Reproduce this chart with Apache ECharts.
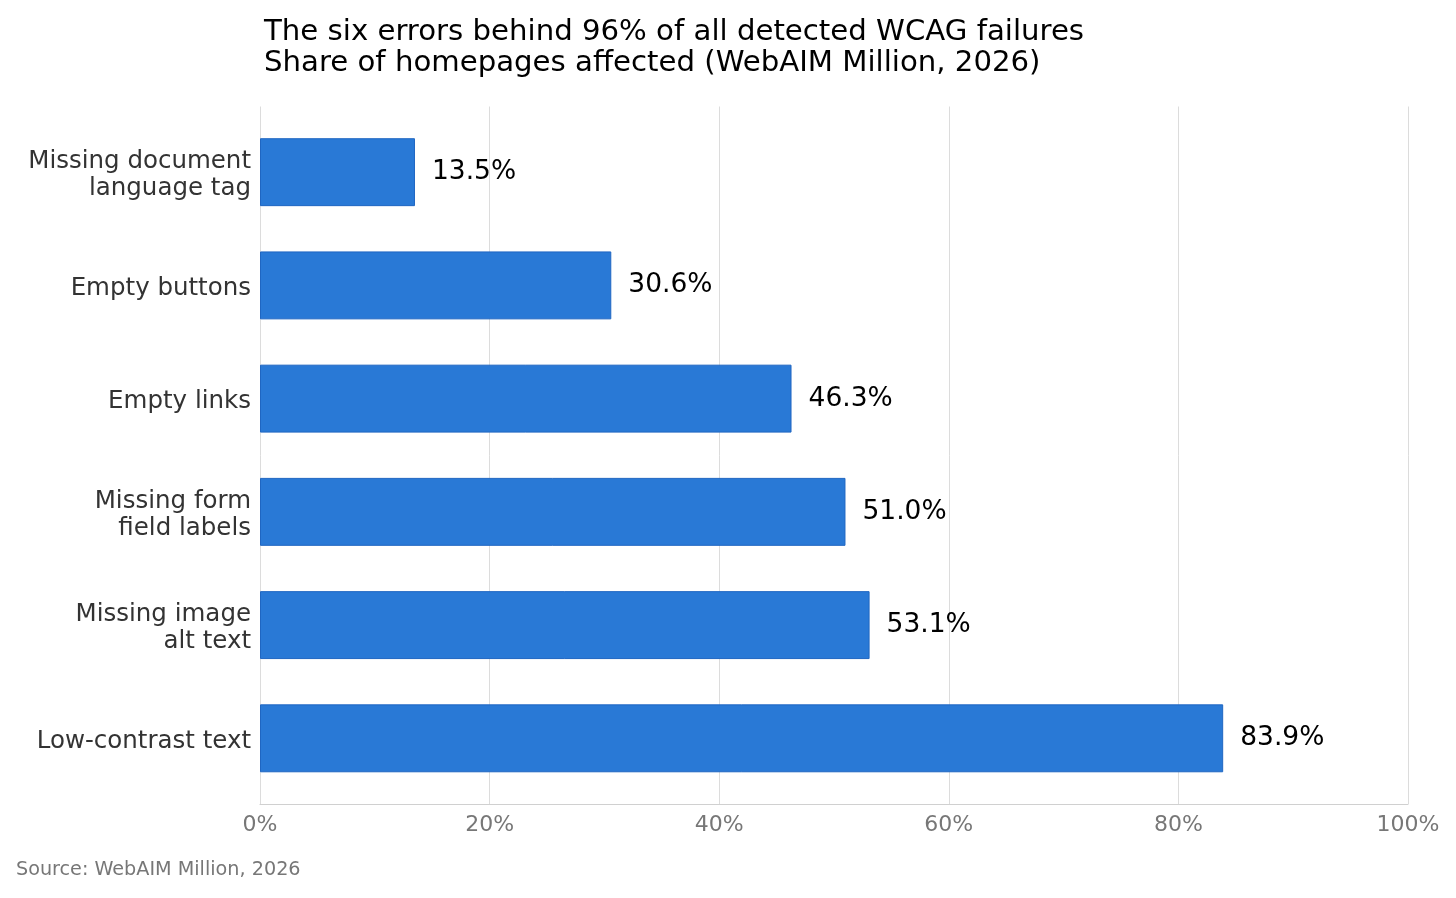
<!DOCTYPE html>
<html><head><meta charset="utf-8">
<script src="https://cdn.jsdelivr.net/npm/echarts@6/dist/echarts.min.js"></script>
<style>html,body{margin:0;padding:0;background:#fff}#c{width:1456px;height:898px}</style>
</head><body><div id="c"></div>
<script>
const categories = ["Missing document\nlanguage tag", "Empty buttons", "Empty links", "Missing form\nfield labels", "Missing image\nalt text", "Low-contrast text"];
const values = [13.5, 30.6, 46.3, 51.0, 53.1, 83.9];
const xMin = 0, xMax = 100, xStep = 20;
const titleLines = ["The six errors behind 96% of all detected WCAG failures", "Share of homepages affected (WebAIM Million, 2026)"];
const sourceText = "Source: WebAIM Million, 2026";

const plotTop = 106.5, plotH = 697.5, band = plotH / 6.16;
const chart = echarts.init(document.getElementById('c'), null, {renderer: 'canvas'});
chart.setOption({
  animation: false,
  backgroundColor: '#fff',
  textStyle: {fontFamily: 'DejaVu Sans'},
  title: {
    text: titleLines.join('\n'), left: 259, top: 12,
    textStyle: {fontSize: 29.2, lineHeight: 31, fontWeight: 'normal', color: '#000', fontFamily: 'DejaVu Sans'}
  },
  graphic: [{
    type: 'text', left: 16, top: 861,
    style: {text: sourceText, fontSize: 19.2, fill: '#777', fontFamily: 'DejaVu Sans'}
  }],
  grid: [
    {left: 260, width: 1148, top: plotTop, height: plotH},
    {left: 260, width: 1148, top: plotTop + 0.08 * band, height: 6 * band}
  ],
  xAxis: [
    {gridIndex: 0, type: 'value', min: xMin, max: xMax, interval: xStep,
     axisLine: {show: true, lineStyle: {color: '#d0d0d0', width: 1.2}},
     axisTick: {show: false},
     axisLabel: {formatter: '{value}%', fontSize: 22, color: '#777', margin: 10, fontFamily: 'DejaVu Sans'},
     splitLine: {show: true, lineStyle: {color: '#dcdcdc', width: 1}}},
    {gridIndex: 1, type: 'value', min: xMin, max: xMax, show: false}
  ],
  yAxis: [
    {gridIndex: 0, type: 'value', show: false},
    {gridIndex: 1, type: 'category', inverse: true, data: categories,
     axisLine: {show: false}, axisTick: {show: false},
     axisLabel: {fontSize: 24.5, color: '#333', margin: 9, lineHeight: 27, align: 'right', fontFamily: 'DejaVu Sans',
       formatter: v => '{s| }\n' + v.split('\n').map(s => '{a|' + s + '}').join('\n'),
       rich: {
         s: {fontSize: 1, lineHeight: 6},
         a: {fontSize: 24.5, lineHeight: 27, color: '#333', fontFamily: 'DejaVu Sans'}
       }}}
  ],
  series: [{
    type: 'bar', xAxisIndex: 1, yAxisIndex: 1, data: values, barWidth: '60%',
    itemStyle: {color: '#2979d6', borderColor: '#1f66c2', borderWidth: 1},
    label: {show: true, position: 'right', distance: 17, fontSize: 26.5, color: '#000', fontFamily: 'DejaVu Sans',
            formatter: p => p.value.toFixed(1) + '%'}
  }]
});
</script></body></html>
